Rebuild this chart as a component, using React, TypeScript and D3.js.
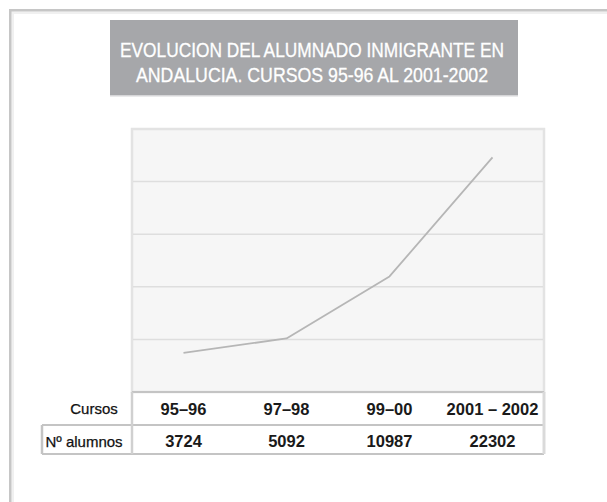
import React from "react";
import * as d3 from "d3";

const titleLines = [
  "EVOLUCION DEL ALUMNADO INMIGRANTE EN",
  "ANDALUCIA. CURSOS 95-96 AL 2001-2002",
];
const categories = ["95–96", "97–98", "99–00", "2001 – 2002"];
const alumnos = [3724, 5092, 10987, 22302];
const yTicks = [0, 5000, 10000, 15000, 20000, 25000];
const rowLabels = ["Cursos", "Nº alumnos"];

const W = 607;
const H = 502;
const plot = { left: 132, right: 544, top: 129, bottom: 392 };
const table = { left: 42, mid: 425, bottom: 454 };

export default function App() {
  const x = d3
    .scaleBand<string>()
    .domain(categories)
    .range([plot.left, plot.right])
    .paddingInner(0)
    .paddingOuter(0);
  const y = d3.scaleLinear().domain([0, 25000]).range([plot.bottom, plot.top]);
  const cx = (c: string) => (x(c) as number) + x.bandwidth() / 2;

  const line = d3
    .line<number>()
    .x((_, i) => cx(categories[i]))
    .y((d) => y(d))
    .curve(d3.curveLinear);

  const font = "Liberation Sans, Arial, Helvetica, sans-serif";

  return (
    <svg
      width={W}
      height={H}
      style={{ position: "absolute", left: 0, top: 0, background: "#fff" }}
    >
      {/* outer frame */}
      <rect x={9} y={11.5} width={W - 9} height={2.5} fill="#f0f0f0" />
      <rect x={11.5} y={11.5} width={2.5} height={H - 11.5} fill="#f0f0f0" />
      <rect x={9} y={9} width={W - 9} height={2.5} fill="#c6c6c6" />
      <rect x={9} y={9} width={2.5} height={H - 9} fill="#c6c6c6" />

      {/* title */}
      <rect x={110} y={20} width={408} height={76} fill="#a6a7aa" />
      <rect x={110} y={95} width={408} height={1.5} fill="#d6d6d8" />
      {titleLines.map((t, i) => (
        <text
          key={i}
          x={312}
          y={56.5 + i * 25.5}
          textAnchor="middle"
          fill="#ffffff"
          fontFamily="Liberation Sans Narrow, Arial Narrow, Liberation Sans, Arial, sans-serif"
          fontSize={20.5}
          stroke="#ffffff"
          strokeWidth={0.3}
          textLength={i === 0 ? 384 : 352}
          lengthAdjust="spacingAndGlyphs"
        >
          {t}
        </text>
      ))}

      {/* plot area */}
      <rect
        x={plot.left}
        y={plot.top}
        width={plot.right - plot.left}
        height={plot.bottom - plot.top}
        fill="#f6f6f6"
        stroke="#e3e3e3"
        strokeWidth={2.5}
      />
      {yTicks.slice(1, -1).map((t) => (
        <line
          key={t}
          x1={plot.left + 1}
          x2={plot.right - 1}
          y1={y(t)}
          y2={y(t)}
          stroke="#dedede"
          strokeWidth={1.5}
        />
      ))}
      <path
        d={line(alumnos) || ""}
        fill="none"
        stroke="#b6b6b6"
        strokeWidth={1.8}
        strokeLinejoin="round"
      />

      {/* table */}
      <line
        x1={plot.left}
        x2={plot.right}
        y1={plot.bottom}
        y2={plot.bottom}
        stroke="#c4c4c4"
        strokeWidth={2}
      />
      <line
        x1={table.left}
        x2={plot.right}
        y1={table.mid}
        y2={table.mid}
        stroke="#c4c4c4"
        strokeWidth={2}
      />
      <line
        x1={table.left}
        x2={plot.right}
        y1={table.bottom}
        y2={table.bottom}
        stroke="#c4c4c4"
        strokeWidth={2}
      />
      <line
        x1={table.left}
        x2={table.left}
        y1={table.mid}
        y2={table.bottom}
        stroke="#c4c4c4"
        strokeWidth={2.5}
      />
      <line
        x1={plot.left}
        x2={plot.left}
        y1={plot.bottom}
        y2={table.bottom}
        stroke="#d0d0d0"
        strokeWidth={2.5}
      />
      <line
        x1={plot.right}
        x2={plot.right}
        y1={plot.bottom}
        y2={table.bottom}
        stroke="#dadada"
        strokeWidth={3}
      />

      <text
        x={94}
        y={414}
        textAnchor="middle"
        fontFamily={font}
        fontSize={15}
        fill="#111"
        stroke="#111"
        strokeWidth={0.25}
      >
        {rowLabels[0]}
      </text>
      <text
        x={84}
        y={447}
        textAnchor="middle"
        fontFamily={font}
        fontSize={15}
        fill="#111"
        stroke="#111"
        strokeWidth={0.25}
      >
        {rowLabels[1]}
      </text>
      {categories.map((c) => (
        <text
          key={c}
          x={cx(c)}
          y={415}
          textAnchor="middle"
          fontFamily={font}
          fontWeight="bold"
          fontSize={16.5}
          fill="#1a1a1a"
        >
          {c}
        </text>
      ))}
      {alumnos.map((v, i) => (
        <text
          key={i}
          x={cx(categories[i])}
          y={447}
          textAnchor="middle"
          fontFamily={font}
          fontWeight="bold"
          fontSize={16.5}
          fill="#1a1a1a"
        >
          {v}
        </text>
      ))}
    </svg>
  );
}
